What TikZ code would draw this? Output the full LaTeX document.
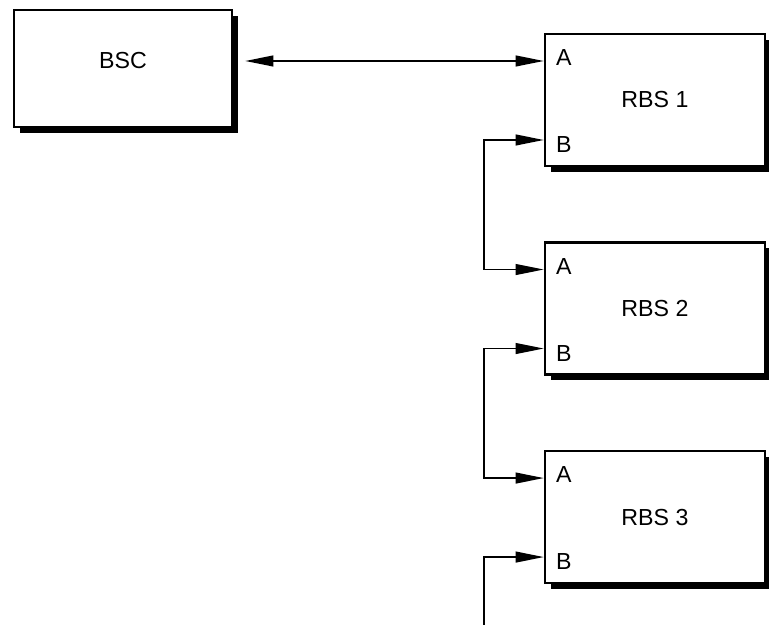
\documentclass[tikz,border=0pt]{standalone}
\usepackage{fontspec}
\setmainfont{Liberation Sans}
\usetikzlibrary{arrows.meta,positioning,calc,shadows}

\tikzset{
  unit/.style={draw, line width=1.8pt, fill=white, minimum width=5.5cm, minimum height=3.3cm, inner sep=0pt,
    drop shadow={shadow xshift=0.15cm, shadow yshift=-0.14cm, fill=black, opacity=1}},
  port/.style={anchor=west, inner sep=0pt},
  link/.style={line width=1.1pt, -{Triangle[length=0.7cm, width=0.27cm]}},
  dlink/.style={line width=1.1pt, {Triangle[length=0.7cm, width=0.27cm]}-{Triangle[length=0.7cm, width=0.27cm]}},
  every node/.style={font=\fontsize{16.5}{19}\selectfont}
}

\begin{document}
\begin{tikzpicture}
  \useasboundingbox (0,0) rectangle (19.225,15.625);

  % Controller
  \node[unit, minimum width=5.45cm, minimum height=2.925cm] (bsc) at (3.075,13.9125) {};
  \node (bsctext) at ($(bsc.center)+(0,0.19)$) {BSC};

  % Base stations
  \node[unit] (rbs1) at (16.375,13.125) {RBS 1};
  \node[unit, below=1.85cm of rbs1] (rbs2) {RBS 2};
  \node[unit, below=1.85cm of rbs2] (rbs3) {RBS 3};

  % Ports A and B
  \foreach \n in {1,2,3} {
    \coordinate (a\n) at ($(rbs\n.west)+(0,0.975)$);
    \coordinate (b\n) at ($(rbs\n.west)+(0,-1.0)$);
    \node[port] (pa\n) at ($(a\n)+(0.3,0.08)$) {A};
    \node[port] (pb\n) at ($(b\n)+(0.3,-0.12)$) {B};
  }
  \coordinate (bus) at (12.1,0);

  % Links
  \draw[dlink, shorten <=0.3cm] (bsc.east |- a1) -- (a1);
  \draw[dlink] (b1) -- (bus |- b1) |- (a2);
  \draw[dlink] (b2) -- (bus |- b2) |- (a3);
  \draw[link] (bus) |- (b3);

\end{tikzpicture}
\end{document}
